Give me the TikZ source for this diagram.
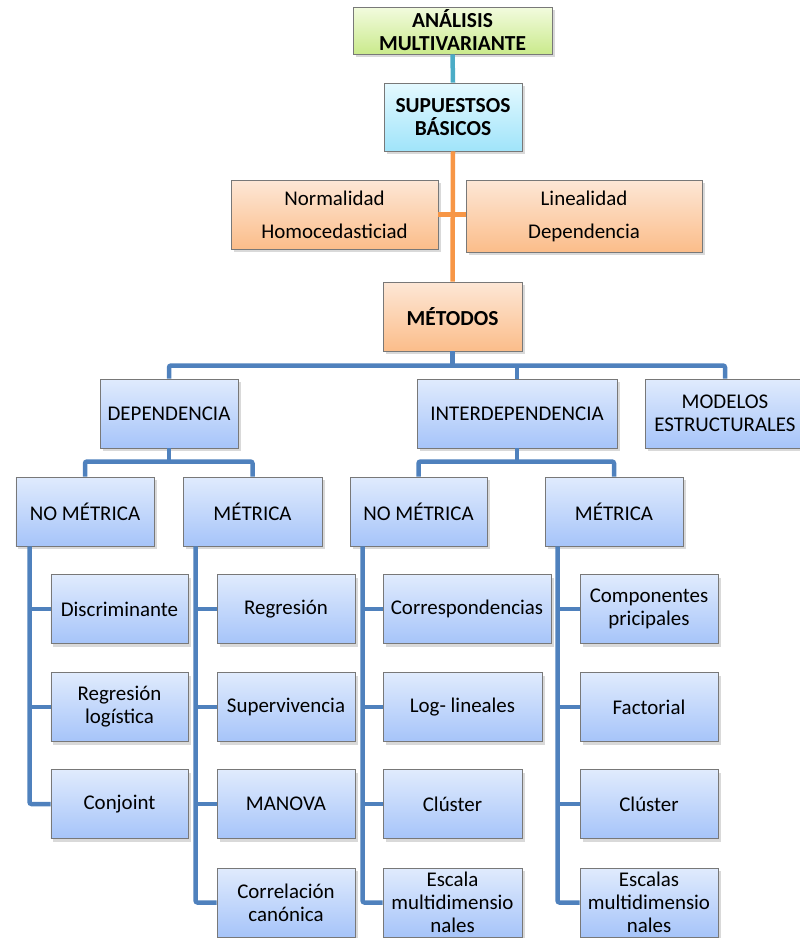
\documentclass[tikz,border=0pt]{standalone}
\usepackage{fontspec}
\setmainfont{Carlito}
\usetikzlibrary{shadows,calc}
\definecolor{lineblue}{RGB}{79,129,189}
\definecolor{lineorange}{RGB}{247,150,70}
\definecolor{lineteal}{RGB}{75,172,198}
\definecolor{boxgray}{RGB}{120,120,120}
\definecolor{bluetop}{RGB}{224,235,253}
\definecolor{bluebot}{RGB}{166,196,249}
\definecolor{orangetop}{RGB}{253,231,214}
\definecolor{orangebot}{RGB}{251,189,138}
\definecolor{greentop}{RGB}{242,251,222}
\definecolor{greenbot}{RGB}{202,234,140}
\definecolor{cyantop}{RGB}{228,249,255}
\definecolor{cyanbot}{RGB}{160,228,250}
\tikzset{
box/.style={draw=boxgray, line width=0.9bp, inner sep=1bp, align=center,
	minimum height=69bp, font=\fontsize{21}{23}\selectfont,
	drop shadow={shadow xshift=2.5bp, shadow yshift=-3bp, opacity=0.3}},
bold/.style={font=\fontsize{21.5}{23}\selectfont\bfseries},
bluebox/.style={box, top color=bluetop, bottom color=bluebot},
orangebox/.style={box, top color=orangetop, bottom color=orangebot},
greenbox/.style={box, top color=greentop, bottom color=greenbot},
cyanbox/.style={box, top color=cyantop, bottom color=cyanbot},
link/.style={line width=4.5bp, rounded corners=2bp},
blueline/.style={link, draw=lineblue},
orangeline/.style={link, draw=lineorange},
tealline/.style={link, draw=lineteal}
}

\begin{document}
\begin{tikzpicture}[x=1bp, y=-1bp]
	\useasboundingbox (0,0) rectangle (800,938);
	\node[greenbox, bold, minimum width=199bp, minimum height=47bp] (analisis) at (452.5,30.5) {ANÁLISIS\\MULTIVARIANTE};
	\node[cyanbox, bold, minimum width=138bp, minimum height=68bp] (supuestos) at (453,117) {SUPUESTSOS\\BÁSICOS};
	\node[orangebox, minimum width=207bp] (normalidad) at (334.5,214.5) {Normalidad\\[10bp]Homocedasticiad};
	\node[orangebox, minimum width=236bp, minimum height=72bp] (linealidad) at (584,216) {Linealidad\\[10bp]Dependencia};
	\node[orangebox, bold, minimum width=139bp] (metodos) at (452.5,316.5) {MÉTODOS};

	\node[bluebox, minimum width=138bp] (dep) at (169,413.5) {DEPENDENCIA};
	\node[bluebox, minimum width=200bp] (interdep) at (517,413.5) {INTERDEPENDENCIA};
	\node[bluebox, minimum width=160bp] (modelos) at (725,413.5) {MODELOS\\ESTRUCTURALES};

	\node[bluebox, minimum width=138bp] (depnm) at (85,511.5) {NO MÉTRICA};
	\node[bluebox, minimum width=139bp] (depm) at (252.5,511.5) {MÉTRICA};
	\node[bluebox, minimum width=137bp] (intnm) at (418.5,511.5) {NO MÉTRICA};
	\node[bluebox, minimum width=138bp] (intm) at (614,511.5) {MÉTRICA};

	\node[bluebox, minimum width=137bp] (discrim) at (119.5,609) {Discriminante};
	\node[bluebox, minimum width=137bp] (reglog) at (119.5,707) {Regresión\\logística};
	\node[bluebox, minimum width=137bp] (conjoint) at (119.5,804) {Conjoint};

	\node[bluebox, minimum width=138bp] (regresion) at (286,609) {Regresión};
	\node[bluebox, minimum width=138bp] (superviv) at (286,707) {Supervivencia};
	\node[bluebox, minimum width=138bp] (manova) at (286,804) {MANOVA};
	\node[bluebox, minimum width=138bp] (correl) at (286,902.5) {Correlación\\canónica};

	\node[bluebox, minimum width=168bp] (corresp) at (467,609) {Correspondencias};
	\node[bluebox, minimum width=159bp] (loglin) at (462.5,707) {Log- lineales};
	\node[bluebox, minimum width=139bp] (cluster1) at (452.5,804) {Clúster};
	\node[bluebox, minimum width=139bp] (escala) at (452.5,902.5) {Escala\\multidimensio\\nales};

	\node[bluebox, minimum width=138bp] (compon) at (649,609) {Componentes\\pricipales};
	\node[bluebox, minimum width=138bp] (factorial) at (649,707) {Factorial};
	\node[bluebox, minimum width=138bp] (cluster2) at (649,804) {Clúster};
	\node[bluebox, minimum width=138bp] (escalas) at (649,902.5) {Escalas\\multidimensio\\nales};

	\draw[tealline] (analisis.south) -- (supuestos.north);
	\draw[orangeline] (supuestos.south) -- (metodos.north);
	\draw[orangeline] (normalidad.east) -- (normalidad.east -| linealidad.west);

	\draw[blueline] (dep.north) -- ++(0,-13) -| (modelos.north);
	\draw[blueline] (metodos.south) -- ++(0,15);
	\draw[blueline] (interdep.north) -- ++(0,-13);
	\draw[blueline] (depnm.north) -- ++(0,-15) -| (depm.north);
	\draw[blueline] (dep.south) -- ++(0,14);
	\draw[blueline] (intnm.north) -- ++(0,-15) -| (intm.north);
	\draw[blueline] (interdep.south) -- ++(0,14);

	\coordinate (t1) at ($(depnm.south west)+(14,0)$);
	\coordinate (t2) at ($(depm.south west)+(13,0)$);
	\coordinate (t3) at ($(intnm.south west)+(13,0)$);
	\coordinate (t4) at ($(intm.south west)+(13,0)$);
	\draw[blueline] (t1) |- (conjoint.west);
	\draw[blueline] (t2) |- (correl.west);
	\draw[blueline] (t3) |- (escala.west);
	\draw[blueline] (t4) |- (escalas.west);
	\foreach \n in {discrim,reglog} \draw[blueline] (t1 |- \n.west) -- (\n.west);
	\foreach \n in {regresion,superviv,manova} \draw[blueline] (t2 |- \n.west) -- (\n.west);
	\foreach \n in {corresp,loglin,cluster1} \draw[blueline] (t3 |- \n.west) -- (\n.west);
	\foreach \n in {compon,factorial,cluster2} \draw[blueline] (t4 |- \n.west) -- (\n.west);
\end{tikzpicture}
\end{document}
